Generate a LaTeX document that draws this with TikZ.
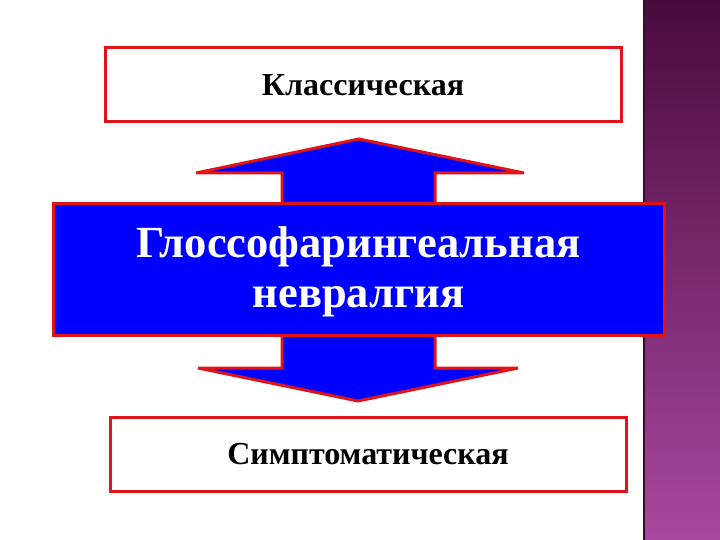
\documentclass[tikz,border=0pt]{standalone}
\usepackage{fontspec}
\setmainfont{Liberation Serif}
\usetikzlibrary{positioning}

\definecolor{boxred}{RGB}{224,20,24}
\definecolor{darkplum}{RGB}{74,10,60}
\definecolor{lightplum}{RGB}{168,72,160}

\begin{document}
\begin{tikzpicture}[x=1pt,y=-1pt]
            \tikzset{
                kind/.style={draw=boxred,line width=3pt,fill=white,minimum width=516pt,minimum height=74pt,font=\bfseries\fontsize{32}{36}\selectfont},
                main/.style={draw=boxred,line width=3pt,fill=blue,text=white,align=center,minimum width=611pt,minimum height=131pt,font=\bfseries\fontsize{44.5}{50}\selectfont},}
            \useasboundingbox (0,0) rectangle (720,540);
            % strip on the right
            \shade [top color=darkplum,bottom color=lightplum] (643,0) rectangle (720,540);
            \draw [darkplum!80!black,line width=1.5pt] (643.75,0) -- (643.75,540);
            \def\arrowpath{(359,139) -- (524,173) -- (435,173) -- (435,368) -- (518,368) -- (358,401) -- (198,368) -- (282,368) -- (282,173) -- (196,173) -- cycle}
            \filldraw [fill=blue,draw=boxred,line width=3pt,line join=miter,miter limit=5]\arrowpath ;
            \node [kind] (classic) at (363,85) {Классическая};
            \node [main,text depth=5pt] (neur) at (358.5,269.5) {Глоссофарингеальная\\невралгия};
            \node [kind] (sympt) at (368,454) {Симптоматическая};
        \end{tikzpicture}
\end{document}
